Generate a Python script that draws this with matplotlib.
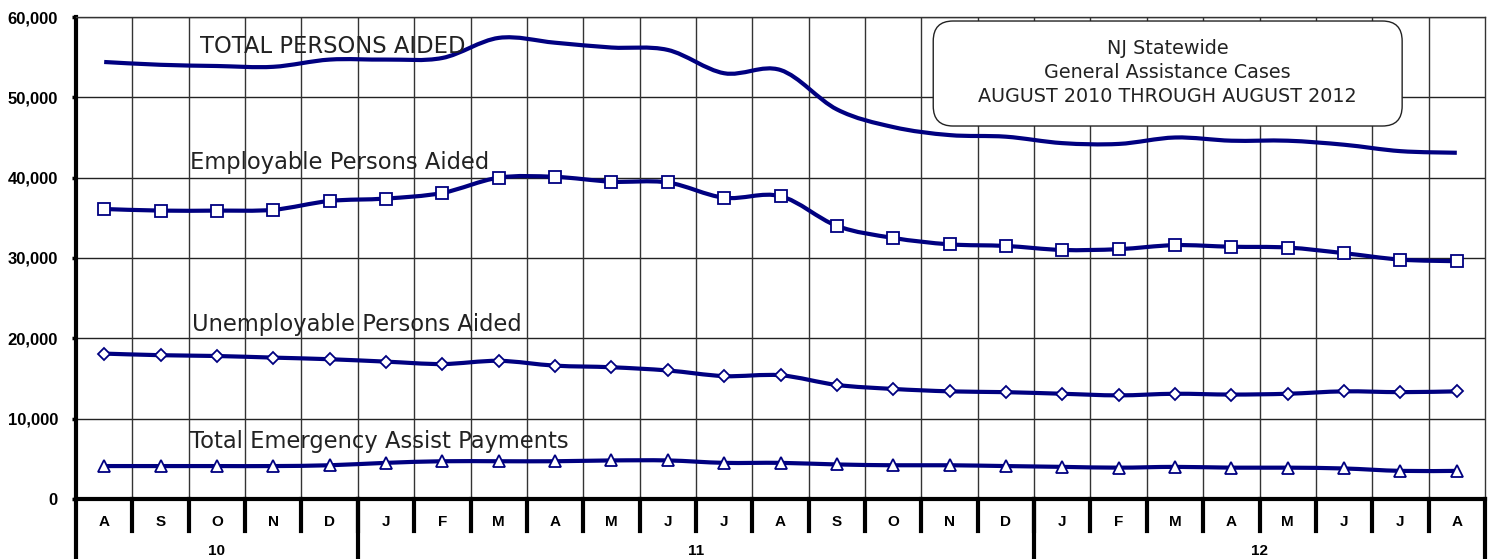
import numpy as np
import matplotlib.pyplot as plt
from matplotlib.path import Path
from matplotlib.patches import PathPatch, FancyBboxPatch

months = ["A", "S", "O", "N", "D", "J", "F", "M", "A", "M", "J", "J", "A",
          "S", "O", "N", "D", "J", "F", "M", "A", "M", "J", "J", "A"]
years = [("10", 0, 5), ("11", 5, 17), ("12", 17, 25)]

total_aided = [54400, 54050, 53900, 53800, 54700, 54700, 54900, 57400, 56800,
               56200, 55900, 53000, 53400, 48500, 46300, 45300, 45100, 44300,
               44200, 45000, 44600, 44600, 44100, 43300, 43100]
employable = [36100, 35900, 35900, 36000, 37100, 37400, 38100, 40000, 40100,
              39500, 39400, 37500, 37700, 34000, 32500, 31700, 31500, 31000,
              31100, 31600, 31400, 31300, 30600, 29800, 29600]
unemployable = [18100, 17900, 17800, 17600, 17400, 17100, 16800, 17200, 16600,
                16400, 16000, 15300, 15400, 14200, 13700, 13400, 13300, 13100,
                12900, 13100, 13000, 13100, 13400, 13300, 13400]
emergency = [4100, 4100, 4100, 4100, 4200, 4500, 4700, 4700, 4700, 4800, 4800,
             4500, 4500, 4300, 4200, 4200, 4100, 4000, 3900, 4000, 3900, 3900,
             3800, 3500, 3500]

NAVY = "#000080"


def smooth_path(x, y):
    # excel-style smoothed line: cubic bezier through every point
    pts = np.column_stack([x, y]).astype(float)
    n = len(pts)
    verts = [pts[0]]
    codes = [Path.MOVETO]
    for i in range(n - 1):
        p0 = pts[i - 1] if i > 0 else pts[i]
        p1 = pts[i]
        p2 = pts[i + 1]
        p3 = pts[i + 2] if i + 2 < n else pts[i + 1]
        verts += [p1 + (p2 - p0) / 6.0, p2 - (p3 - p1) / 6.0, p2]
        codes += [Path.CURVE4] * 3
    return Path(verts, codes)


fig = plt.figure(figsize=(14.99, 5.59), dpi=100)
ax = fig.add_axes([76 / 1499, 60 / 559, 1409 / 1499, 482 / 559])

x = np.arange(len(months))
ax.set_xlim(-0.5, len(months) - 0.5)
ax.set_ylim(0, 60000)

# grid
for yy in range(10000, 60001, 10000):
    ax.axhline(yy, color="#222222", lw=1.0, zorder=1)
for b in np.arange(0.5, len(months) - 0.5, 1.0):
    ax.axvline(b, color="#333333", lw=1.0, zorder=1)

series = [
    (total_aided, None, 0),
    (employable, "s", 8),
    (unemployable, "D", 6.5),
    (emergency, "^", 8.5),
]
for vals, marker, ms in series:
    ax.add_patch(PathPatch(smooth_path(x, vals), facecolor="none",
                           edgecolor=NAVY, lw=3.0, zorder=3))
    if marker:
        ax.plot(x, vals, ls="none", marker=marker, ms=ms, mfc="white",
                mec=NAVY, mew=1.3, zorder=4)

label_kw = dict(fontsize=16.3, color="#222222", family="DejaVu Sans",
                va="center", ha="left", zorder=5)
ax.text(1.70, 56300, "TOTAL PERSONS AIDED", **label_kw)
ax.text(1.52, 41950, "Employable Persons Aided", **label_kw)
ax.text(1.56, 21660, "Unemployable Persons Aided", **label_kw)
ax.text(1.52, 7100, "Total Emergency Assist Payments", **label_kw)

# title box
box = FancyBboxPatch((14.71, 46430), 23.03 - 14.71, 59500 - 46430,
                     boxstyle="round,pad=0,rounding_size=0.35",
                     mutation_aspect=7100, facecolor="white",
                     edgecolor="#222222", lw=1.0, zorder=6)
ax.add_patch(box)
ax.text(18.87, 53100, "NJ Statewide\nGeneral Assistance Cases\nAUGUST 2010 THROUGH AUGUST 2012",
        ha="center", va="center", fontsize=13.8, color="#222222",
        family="DejaVu Sans", linespacing=1.33, zorder=7)

# axes styling
for side in ["top", "right"]:
    ax.spines[side].set_linewidth(1.0)
    ax.spines[side].set_color("#333333")
ax.spines["left"].set_linewidth(3.0)
ax.spines["bottom"].set_linewidth(3.0)
ax.set_xticks([])
ax.set_yticks(range(0, 60001, 10000))
ax.set_yticklabels(["{:,}".format(v) for v in range(0, 60001, 10000)],
                   fontsize=12, fontweight="bold", family="Liberation Sans")
ax.tick_params(axis="y", direction="out", length=3, width=2.5, pad=10)

# category rows below the plot
tr = ax.get_xaxis_transform()
row1 = -32 / 482
row2 = -62 / 482
for b in np.arange(0.5, len(months) - 0.5, 1.0):
    ax.plot([b, b], [0, row1], color="black", lw=3.0, transform=tr,
            clip_on=False)
for edge in [-0.5, 4.5, 16.5, 24.5]:
    ax.plot([edge, edge], [0, row2], color="black", lw=3.0, transform=tr,
            clip_on=False)
for i, m in enumerate(months):
    ax.text(i, -23 / 482, m, transform=tr, ha="center", va="center",
            fontsize=11, fontweight="bold", family="Liberation Sans")
for name, start, stop in years:
    ax.text((start + stop - 1) / 2.0, -52 / 482, name, transform=tr,
            ha="center", va="center", fontsize=11, fontweight="bold",
            family="Liberation Sans")

fig.savefig("out.png", dpi=100)
